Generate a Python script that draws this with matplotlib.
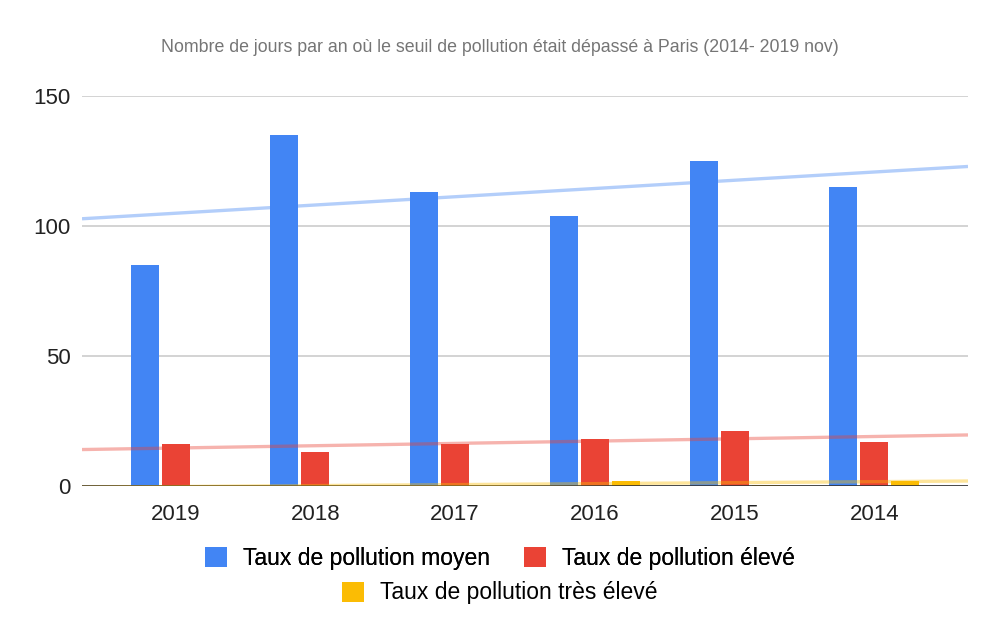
import numpy as np
import matplotlib
matplotlib.use('Agg')
import matplotlib.pyplot as plt
from matplotlib.patches import Patch

# values
years = ['2019', '2018', '2017', '2016', '2015', '2014']
moyen = [85, 135, 113, 104, 125, 115]
eleve = [16, 13, 16, 18, 21, 17]
tres_eleve = [0, 0, 0, 2, 0.4, 2]
labels = ['Taux de pollution moyen', 'Taux de pollution élevé',
          'Taux de pollution très élevé']
colours = ['#4285F4', '#EA4335', '#FBBC04']
title = 'Nombre de jours par an où le seuil de pollution était dépassé à Paris (2014- 2019 nov)'

plt.rcParams['font.family'] = ['Liberation Sans', 'DejaVu Sans']

fig = plt.figure(figsize=(10, 6.39), dpi=100)
ax = fig.add_axes([0.082, 0.2394, 0.886, 0.6104])

x = np.arange(len(years))
width = 0.2
offset = 0.222
series = [moyen, eleve, tres_eleve]
for k, (vals, col) in enumerate(zip(series, colours)):
    ax.bar(x + (k - 1) * offset, vals, width, color=col, zorder=2)

# linear trend lines across the whole plot width
xlim = (-0.67, 5.67)
xs = np.array(xlim)
for vals, col in zip(series, colours):
    p = np.polyfit(x, vals, 1)
    ax.plot(xs, np.polyval(p, xs), color=col, alpha=0.4, lw=2.4, zorder=3,
            solid_capstyle='butt')

ax.set_xlim(*xlim)
ax.set_ylim(0, 150)
ax.set_yticks([0, 50, 100, 150])
ax.set_xticks(x)
ax.set_xticklabels(years)
ax.yaxis.grid(True, color='#cccccc', lw=1.2, zorder=0)
ax.axhline(0, color='#333333', lw=1.2, zorder=2.5)
for s in ax.spines.values():
    s.set_visible(False)
ax.tick_params(axis='both', length=0, labelsize=16, colors='#222222')
ax.tick_params(axis='y', pad=8)
ax.tick_params(axis='x', pad=13)

fig.text(0.5, 0.926, title, ha='center', va='center', color='#757575',
         fontsize=12.8)

handles = [Patch(facecolor=c, edgecolor='none') for c in colours]
leg_kw = dict(loc='center', frameon=False, fontsize=16.5, handlelength=0.96,
              handleheight=0.96, handletextpad=0.7)
leg1 = fig.legend(handles[:2], labels[:2], ncol=2, columnspacing=1.5,
                  bbox_to_anchor=(0.5, 0.126), **leg_kw)
fig.add_artist(leg1)
fig.legend(handles[2:], labels[2:], bbox_to_anchor=(0.5, 0.072), **leg_kw)

fig.savefig('out.png', dpi=100, facecolor='white')
